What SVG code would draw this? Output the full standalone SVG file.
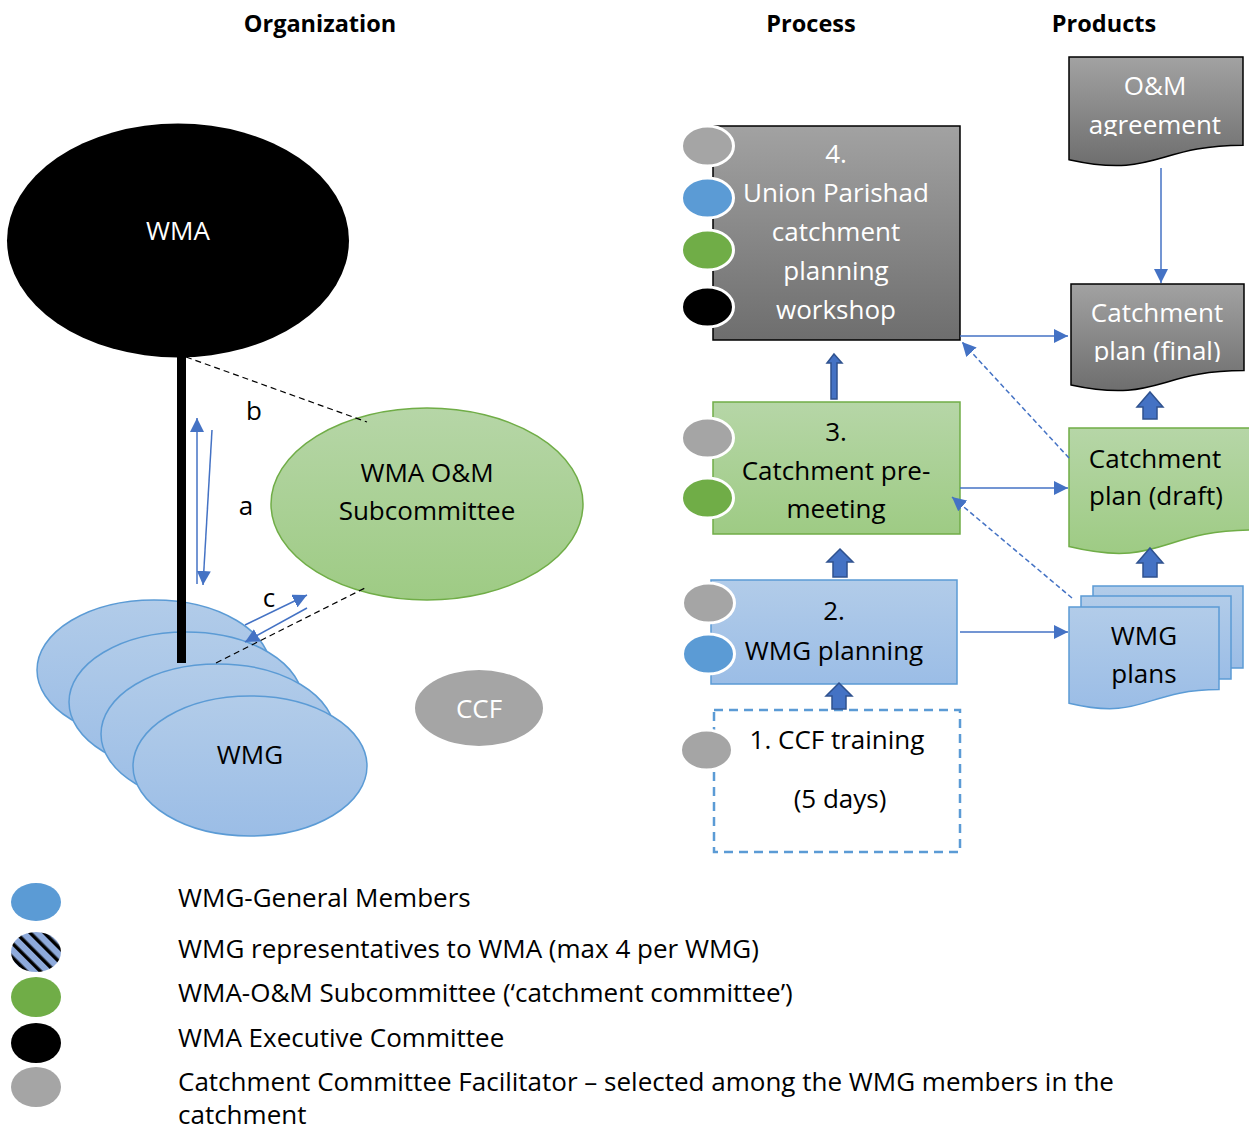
<svg xmlns="http://www.w3.org/2000/svg" width="1249" height="1131" viewBox="0 0 1249 1131">
<style>
.t{font-family:"Open Sans","Liberation Sans",sans-serif;font-size:26px;fill:#000}
.w{fill:#fff}
.h{font-family:"Open Sans","Liberation Sans",sans-serif;font-size:23.5px;font-weight:700;fill:#000}
.con{stroke:#4472c4;stroke-width:1.5;fill:none;marker-end:url(#ah)}
.dash{stroke-dasharray:5 3}
.bd{stroke:#000;stroke-width:1.2;stroke-dasharray:6 4;fill:none}
.blk{fill:#4472c4;stroke:#2f528f;stroke-width:1.5}
.wc{stroke:#fff;stroke-width:3}
</style>
<defs>
<linearGradient id="gBlue" x1="0" y1="0" x2="0" y2="1"><stop offset="0" stop-color="#b2cce9"/><stop offset="1" stop-color="#9bbde6"/></linearGradient>
<linearGradient id="gGreen" x1="0" y1="0" x2="0" y2="1"><stop offset="0" stop-color="#b6d6a7"/><stop offset="1" stop-color="#9ecb84"/></linearGradient>
<linearGradient id="gGray" x1="0" y1="0" x2="0" y2="1"><stop offset="0" stop-color="#a2a2a2"/><stop offset="1" stop-color="#6e6e6e"/></linearGradient>
<pattern id="stripe" width="10" height="10" patternUnits="userSpaceOnUse" patternTransform="rotate(-45)"><rect width="10" height="10" fill="#8eaadb"/><rect width="3.5" height="10" fill="#000"/></pattern>
<marker id="ah" viewBox="0 0 10 10" refX="10" refY="5" markerUnits="userSpaceOnUse" markerWidth="14" markerHeight="14" orient="auto"><path d="M0,0 L10,5 L0,10 z" fill="#4472c4"/></marker>
<clipPath id="clipOM"><rect x="1069" y="57" width="174" height="79"/></clipPath>
<clipPath id="clipFin"><rect x="1071" y="284" width="174" height="78"/></clipPath>
</defs>

<g id="headers">
<text class="h" x="320" y="32" text-anchor="middle">Organization</text>
<text class="h" x="811" y="32" text-anchor="middle">Process</text>
<text class="h" x="1104" y="32" text-anchor="middle">Products</text>
</g>

<g id="wmg">
<ellipse cx="154" cy="670" rx="117" ry="70" fill="url(#gBlue)" stroke="#5b9bd5" stroke-width="1.5"/>
<ellipse cx="186" cy="702" rx="117" ry="70" fill="url(#gBlue)" stroke="#5b9bd5" stroke-width="1.5"/>
<ellipse cx="218" cy="734" rx="117" ry="70" fill="url(#gBlue)" stroke="#5b9bd5" stroke-width="1.5"/>
<ellipse cx="250" cy="766" rx="117" ry="70" fill="url(#gBlue)" stroke="#5b9bd5" stroke-width="1.5"/>
<text class="t" x="250" y="764" text-anchor="middle">WMG</text>
</g>

<g id="wma">
<ellipse cx="178" cy="240.5" rx="171" ry="117" fill="#000"/>
<text class="t w" x="178" y="240" text-anchor="middle">WMA</text>
</g>

<g id="subcommittee">
<ellipse cx="427" cy="504" rx="156" ry="96" fill="url(#gGreen)" stroke="#70ad47" stroke-width="1.5"/>
<text class="t" x="427" y="482" text-anchor="middle">WMA O&amp;M</text>
<text class="t" x="427" y="520" text-anchor="middle">Subcommittee</text>
</g>

<g id="ccf">
<ellipse cx="479" cy="708" rx="64" ry="38" fill="#a5a5a5"/>
<text class="t w" x="479" y="718" text-anchor="middle">CCF</text>
</g>

<g id="step4">
<rect x="713" y="126" width="247" height="214" fill="url(#gGray)" stroke="#000" stroke-width="1.5"/>
<ellipse class="wc" cx="707.5" cy="146" rx="26" ry="20" fill="#a5a5a5"/>
<ellipse class="wc" cx="707.5" cy="198" rx="26" ry="20" fill="#5b9bd5"/>
<ellipse class="wc" cx="707.5" cy="250" rx="26" ry="20" fill="#70ad47"/>
<ellipse class="wc" cx="707.5" cy="307" rx="26" ry="20" fill="#000"/>
<text class="t w" x="836" y="163" text-anchor="middle">4.</text>
<text class="t w" x="836" y="202" text-anchor="middle">Union Parishad</text>
<text class="t w" x="836" y="241" text-anchor="middle">catchment</text>
<text class="t w" x="836" y="280" text-anchor="middle">planning</text>
<text class="t w" x="836" y="319" text-anchor="middle">workshop</text>
</g>

<g id="step3">
<rect x="713" y="402" width="247" height="132" fill="url(#gGreen)" stroke="#70ad47" stroke-width="1.5"/>
<ellipse class="wc" cx="707.5" cy="438" rx="26" ry="20" fill="#a5a5a5"/>
<ellipse class="wc" cx="707.5" cy="498" rx="26" ry="20" fill="#70ad47"/>
<text class="t" x="836" y="441" text-anchor="middle">3.</text>
<text class="t" x="836" y="480" text-anchor="middle">Catchment pre-</text>
<text class="t" x="836" y="518" text-anchor="middle">meeting</text>
</g>

<g id="step2">
<rect x="711" y="580" width="246" height="104" fill="url(#gBlue)" stroke="#5b9bd5" stroke-width="1.5"/>
<ellipse class="wc" cx="708.5" cy="603" rx="26" ry="20" fill="#a5a5a5"/>
<ellipse class="wc" cx="708.5" cy="654" rx="26" ry="20" fill="#5b9bd5"/>
<text class="t" x="834" y="620" text-anchor="middle">2.</text>
<text class="t" x="834" y="660" text-anchor="middle">WMG planning</text>
</g>

<g id="step1">
<rect x="714" y="710" width="246" height="142" fill="none" stroke="#5b9bd5" stroke-width="2.5" stroke-dasharray="9 6"/>
<ellipse class="wc" cx="706.5" cy="750" rx="26" ry="20" fill="#a5a5a5"/>
<text class="t" x="837" y="749" text-anchor="middle">1. CCF training</text>
<text class="t" x="840" y="808" text-anchor="middle">(5 days)</text>
</g>

<g id="om-agreement">
<path d="M1069,57 H1243 V145.2 C1156,145.2 1156,178.8 1069,159.7 Z" fill="url(#gGray)" stroke="#000" stroke-width="1.5"/>
<g clip-path="url(#clipOM)">
<text class="t w" x="1155" y="95" text-anchor="middle">O&amp;M</text>
<text class="t w" x="1155" y="134" text-anchor="middle">agreement</text>
</g>
</g>

<g id="plan-final">
<path d="M1071,284 H1244 V370.6 C1157.5,370.6 1157.5,403.6 1071,384.9 Z" fill="url(#gGray)" stroke="#000" stroke-width="1.5"/>
<g clip-path="url(#clipFin)">
<text class="t w" x="1157" y="322" text-anchor="middle">Catchment</text>
<text class="t w" x="1157" y="360" text-anchor="middle">plan (final)</text>
</g>
</g>

<g id="plan-draft">
<path d="M1069,428 H1253 V529.9 C1161,529.9 1161,568.7 1069,546.6 Z" fill="url(#gGreen)" stroke="#70ad47" stroke-width="1.5"/>
<text class="t" x="1155" y="468" text-anchor="middle">Catchment</text>
<text class="t" x="1156" y="505" text-anchor="middle">plan (draft)</text>
</g>

<g id="wmg-plans">
<rect x="1093" y="586" width="150" height="82" fill="url(#gBlue)" stroke="#5b9bd5" stroke-width="1.5"/>
<rect x="1081" y="596" width="150" height="83" fill="url(#gBlue)" stroke="#5b9bd5" stroke-width="1.5"/>
<path d="M1069,607 H1219 V689.6 C1144,689.6 1144,721.1 1069,703.2 Z" fill="url(#gBlue)" stroke="#5b9bd5" stroke-width="1.5"/>
<text class="t" x="1144" y="645" text-anchor="middle">WMG</text>
<text class="t" x="1144" y="683" text-anchor="middle">plans</text>
</g>

<g id="connectors">
<rect x="177" y="355" width="9" height="308" fill="#000"/>
<path class="bd" d="M186,357 L367,422"/>
<path class="bd" d="M216,663 L367,587"/>
<path class="con" d="M197,584 L197,418"/>
<path class="con" d="M212,430 L203,585"/>
<path class="con" d="M245,625 L307,595"/>
<path class="con" d="M307,608 L245,642"/>
<path class="con" d="M1161,168 L1161,283"/>
<path class="con" d="M960,336 L1068,336"/>
<path class="con" d="M960,488 L1068,488"/>
<path class="con" d="M960,632 L1068,632"/>
<path class="con dash" d="M1069,458 L962,342"/>
<path class="con dash" d="M1072,598 L952,497"/>
<polygon class="blk" points="834,354 842,363 837,363 837,399 831,399 831,363 827,363"/>
<polygon class="blk" points="840,549 853,562 847,562 847,577 833,577 833,562 827,562"/>
<polygon class="blk" points="839,683 852,696 846,696 846,709 832,709 832,696 826,696"/>
<polygon class="blk" points="1150,392 1163,407 1157,407 1157,419 1143,419 1143,407 1137,407"/>
<polygon class="blk" points="1150,548 1163,563 1157,563 1157,577 1143,577 1143,563 1137,563"/>
<text class="t" x="254" y="420" text-anchor="middle">b</text>
<text class="t" x="246" y="515" text-anchor="middle">a</text>
<text class="t" x="269" y="607" text-anchor="middle">c</text>
</g>

<g id="legend">
<ellipse cx="36" cy="902" rx="25" ry="19" fill="#5b9bd5"/>
<ellipse cx="36" cy="952" rx="25" ry="20" fill="url(#stripe)"/>
<ellipse cx="36" cy="997" rx="25" ry="20" fill="#70ad47"/>
<ellipse cx="36" cy="1043" rx="25" ry="20" fill="#000"/>
<ellipse cx="36" cy="1087" rx="25" ry="20" fill="#a5a5a5"/>
<text class="t" x="178" y="907">WMG-General Members</text>
<text class="t" x="178" y="958">WMG representatives to WMA (max 4 per WMG)</text>
<text class="t" x="178" y="1002">WMA-O&amp;M Subcommittee (‘catchment committee’)</text>
<text class="t" x="178" y="1047">WMA Executive Committee</text>
<text class="t" x="178" y="1091">Catchment Committee Facilitator – selected among the WMG members in the<tspan x="178" dy="33">catchment</tspan></text>
</g>
</svg>
